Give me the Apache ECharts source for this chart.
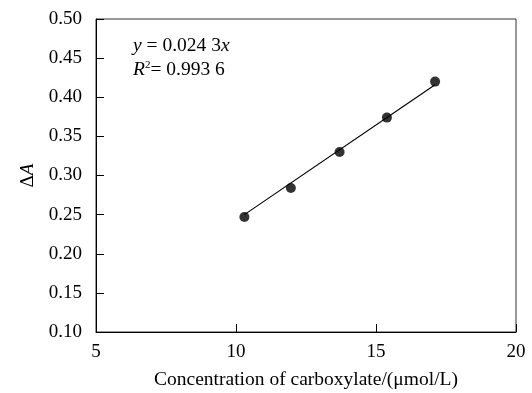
<!DOCTYPE html>
<html>
<head>
<meta charset="utf-8">
<script src="https://cdn.jsdelivr.net/npm/echarts@6/dist/echarts.min.js"></script>
<style>html,body{margin:0;padding:0;background:#fff}#c{width:532px;height:393px}</style>
</head>
<body>
<div id="c"></div>
<script>
var xValues = [10.3, 11.96, 13.7, 15.39, 17.11];
var yValues = [0.247, 0.284, 0.330, 0.374, 0.420];
var fitX = [10.3, 17.11];
var fitY = [0.250, 0.416];
var xTicks = [5, 10, 15, 20];
var yTicks = [0.10, 0.15, 0.20, 0.25, 0.30, 0.35, 0.40, 0.45, 0.50];
var eqLine1 = ['y', ' = 0.024 3', 'x'];
var eqLine2 = ['R', '2', '= 0.993 6'];

var font = 'Liberation Serif';
var fs = 19;
var fsText = 19.5;
var chart = echarts.init(document.getElementById('c'));
var pts = xValues.map(function (x, i) { return [x, yValues[i]]; });
var fit = fitX.map(function (x, i) { return [x, fitY[i]]; });
chart.setOption({
  animation: false,
  grid: { left: 96, right: 16, top: 19, bottom: 61, show: true, borderColor: '#333', borderWidth: 1, containLabel: false, outerBoundsMode: 'none' },
  xAxis: {
    type: 'value', min: xTicks[0], max: xTicks[xTicks.length - 1], interval: 5,
    name: 'Concentration of carboxylate/(μmol/L)', nameLocation: 'middle', nameGap: 38,
    nameTextStyle: { fontFamily: font, fontSize: fsText, color: '#000' },
    axisLine: { lineStyle: { color: '#000', width: 1 } },
    axisTick: { inside: true, length: 8, lineStyle: { color: '#000' } },
    axisLabel: { fontFamily: font, fontSize: fs, color: '#000', margin: 11 },
    splitLine: { show: false }
  },
  yAxis: {
    type: 'value', min: yTicks[0], max: yTicks[yTicks.length - 1], interval: 0.05,
    name: '{n|Δ}{i|A}', nameLocation: 'middle', nameGap: 57, nameRotate: 90,
    nameTextStyle: { fontFamily: font, fontSize: fs, color: '#000',
      rich: { n: { fontFamily: font, fontSize: fs, color: '#000' }, i: { fontFamily: font, fontSize: fs, fontStyle: 'italic', color: '#000' } } },
    axisLine: { show: true, lineStyle: { color: '#000', width: 1 } },
    axisTick: { show: true, inside: true, length: 8, lineStyle: { color: '#000' } },
    axisLabel: { fontFamily: font, fontSize: fs, color: '#000', margin: 14, formatter: function (v) { return v.toFixed(2); } },
    splitLine: { show: false }
  },
  graphic: [
    { type: 'text', left: 133, top: 36, style: {
      text: '{i|' + eqLine1[0] + '}{n|' + eqLine1[1] + '}{i|' + eqLine1[2] + '}',
      rich: { i: { fontFamily: font, fontSize: fsText, fontStyle: 'italic', fill: '#000' }, n: { fontFamily: font, fontSize: fsText, fill: '#000' } } } },
    { type: 'text', left: 133, top: 60, style: {
      text: '{i|' + eqLine2[0] + '}{s|' + eqLine2[1] + '}{n|' + eqLine2[2] + '}',
      rich: { i: { fontFamily: font, fontSize: fsText, fontStyle: 'italic', fill: '#000' }, s: { fontFamily: font, fontSize: 11, fill: '#000', verticalAlign: 'top', padding: [0, 0, 9, 0] }, n: { fontFamily: font, fontSize: fsText, fill: '#000' } } } }
  ],
  series: [
    { type: 'line', data: fit, symbol: 'none', lineStyle: { color: '#000', width: 1.2 }, z: 2 },
    { type: 'scatter', data: pts, symbol: 'circle', symbolSize: 10, itemStyle: { color: '#000' }, z: 3 }
  ]
});
</script>
</body>
</html>
